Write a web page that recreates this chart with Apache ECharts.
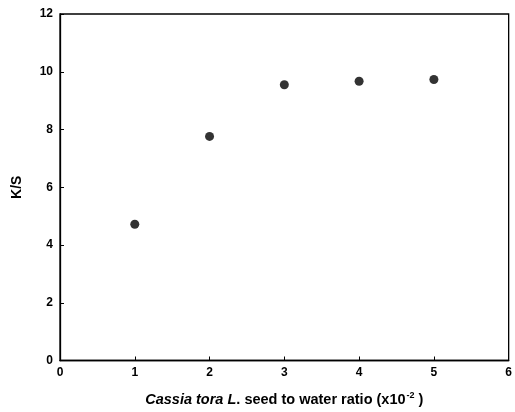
<!DOCTYPE html>
<html>
<head>
<meta charset="utf-8">
<script src="https://cdn.jsdelivr.net/npm/echarts@6/dist/echarts.min.js"></script>
<style>
  html, body { margin: 0; padding: 0; background: #fff; }
  #chart { width: 515px; height: 412px; }
</style>
</head>
<body>
<div id="chart"></div>
<script>
// seed to water ratio (x10^-2) and measured K/S
var ratios = [1, 2, 3, 4, 5]
var ksValues = [4.72, 7.76, 9.55, 9.67, 9.73]

var chart = echarts.init(document.getElementById('chart'))

var font = 'Liberation Sans, Arial, sans-serif'
var axisLine = { show: true, lineStyle: { color: '#000', width: 1.3 } }

chart.setOption({
  animation: false,
  grid: { left: 60, right: 5, top: 14, bottom: 49, show: true, borderColor: '#000', borderWidth: 1.3 },
  xAxis: {
    type: 'value', min: 0, max: 6, interval: 1,
    axisLine: axisLine,
    axisTick: { inside: true, length: 4, lineStyle: { color: '#000' } },
    splitLine: { show: false },
    axisLabel: { color: '#000', fontFamily: font, fontWeight: 'bold', fontSize: 12, margin: 6 },
    name: '{i|Cassia tora L}{n|. seed to water ratio (x10}{s|-2}{n| )}',
    nameLocation: 'middle', nameGap: 31,
    nameTextStyle: {
      rich: {
        i: { fontFamily: font, fontWeight: 'bold', fontStyle: 'italic', fontSize: 14.5, color: '#000' },
        n: { fontFamily: font, fontWeight: 'bold', fontSize: 14.5, color: '#000' },
        s: { fontFamily: font, fontWeight: 'bold', fontSize: 9, color: '#000', verticalAlign: 'top', padding: [0, 0, 7, 1] }
      }
    }
  },
  yAxis: {
    type: 'value', min: 0, max: 12, interval: 2,
    axisLine: axisLine,
    axisTick: { inside: true, length: 4, lineStyle: { color: '#000' } },
    splitLine: { show: false },
    axisLabel: { color: '#000', fontFamily: font, fontWeight: 'bold', fontSize: 12, margin: 7 },
    name: 'K/S', nameLocation: 'middle', nameGap: 36, nameRotate: 90,
    nameTextStyle: { color: '#000', fontFamily: font, fontWeight: 'bold', fontSize: 14 }
  },
  series: [{
    type: 'scatter',
    symbol: 'circle',
    symbolSize: 9,
    itemStyle: { color: '#000' },
    data: ratios.map(function (r, i) { return [r, ksValues[i]] })
  }]
})
</script>
</body>
</html>
